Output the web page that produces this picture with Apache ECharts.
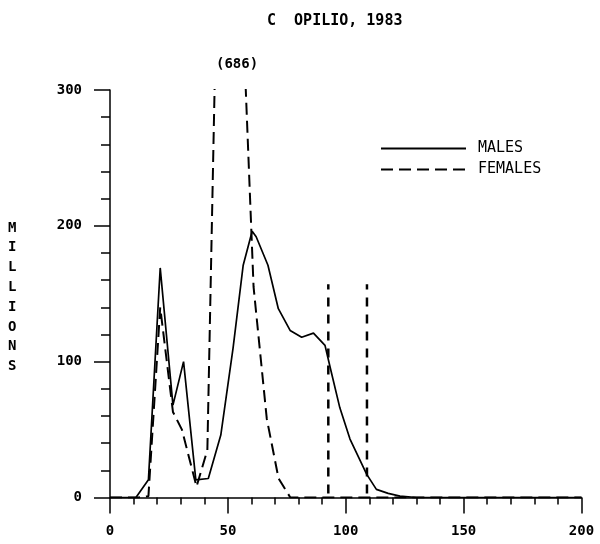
<!DOCTYPE html>
<html>
<head>
<meta charset="utf-8">
<script src="https://cdn.jsdelivr.net/npm/echarts@6/dist/echarts.min.js"></script>
<style>html,body{margin:0;padding:0;background:#fff}#c{width:600px;height:544px}</style>
</head>
<body>
<div id="c"></div>
<script>
const titleText = 'C  OPILIO, 1983';
const yAxisName = 'MILLIONS';
const peakNote = '(686)';
const seriesNames = ['MALES', 'FEMALES'];
const maleX = [0, 11, 16.3, 21.3, 26.7, 31.2, 36.4, 41.7, 47, 52.2, 56.5, 60.3, 62, 67, 71.4, 76.4, 81.3, 86.3, 91.2, 93.5, 97.5, 101.8, 108.9, 113, 118, 123, 130, 200];
const maleY = [0, 0, 13, 169, 68, 100, 13, 14, 46, 110, 171, 196, 192, 171, 139, 123, 118, 121, 112, 95, 66, 43, 17, 6, 3, 1, 0, 0];
const femaleX = [0, 12, 16.3, 21.3, 26.7, 30.5, 36.7, 41.3, 48.8, 60.9, 66.5, 71.5, 76.5, 200];
const femaleY = [0, 0, 1, 140, 63, 50, 8, 35, 686, 155, 58, 14, 0, 0];
const markerX = [92.6, 109];
const markerRange = [3, 157];

const FONT = '"DejaVu Sans Mono", "Liberation Mono", monospace';
const pairs = (xs, ys) => xs.map((x, i) => [x, ys[i]]);

const markerSeries = markerX.map((x, i) => ({
  name: 'marker' + i,
  type: 'line',
  symbol: 'none',
  silent: true,
  data: markerRange.map(v => [x, v]),
  lineStyle: { color: '#000', width: 2.5, type: [9, 8] }
}));

const chart = echarts.init(document.getElementById('c'));
chart.setOption({
  animation: false,
  backgroundColor: '#fff',
  grid: { left: 110, right: 18.5, top: 90, bottom: 46.5 },
  title: {
    text: titleText, left: 262, top: 9,
    textStyle: { fontFamily: FONT, fontSize: 15, fontWeight: 'bold', color: '#000' }
  },
  legend: {
    data: seriesNames,
    orient: 'vertical', left: 375, top: 136,
    itemWidth: 85, itemHeight: 14, itemGap: 6,
    itemStyle: { color: 'transparent', borderColor: 'transparent', borderWidth: 0, opacity: 0 },
    textStyle: { fontFamily: FONT, fontSize: 15, color: '#000', padding: [0, 0, 0, 7] }
  },
  graphic: [
    { type: 'text', left: 8, top: 218,
      style: { text: yAxisName.split('').join('\n'), font: 'bold 14px ' + FONT, lineHeight: 19.8, fill: '#000', align: 'center' } },
    { type: 'text', left: 216, top: 57,
      style: { text: peakNote, font: 'bold 14px ' + FONT, fill: '#000' } }
  ],
  xAxis: {
    type: 'value', min: 0, max: 200, interval: 50,
    axisLine: { lineStyle: { color: '#000', width: 1.5 } },
    axisTick: { show: true, length: 16, lineStyle: { color: '#000', width: 1.5 } },
    minorTick: { show: true, splitNumber: 5, length: 7, lineStyle: { color: '#000', width: 1.5 } },
    splitLine: { show: false },
    axisLabel: { margin: 27, fontFamily: FONT, fontSize: 14, fontWeight: 'bold', color: '#000' }
  },
  yAxis: {
    type: 'value', min: 0, max: 300, interval: 100,
    axisLine: { show: true, lineStyle: { color: '#000', width: 1.5 } },
    axisTick: { show: true, length: 16, lineStyle: { color: '#000', width: 1.5 } },
    minorTick: { show: true, splitNumber: 5, length: 9, lineStyle: { color: '#000', width: 1.5 } },
    splitLine: { show: false },
    axisLabel: { margin: 28, fontFamily: FONT, fontSize: 14, fontWeight: 'bold', color: '#000' }
  },
  series: [
    { name: seriesNames[0], type: 'line', symbol: 'none', clip: true,
      data: pairs(maleX, maleY),
      itemStyle: { color: '#000' },
      lineStyle: { color: '#000', width: 1.7, type: 'solid' } },
    { name: seriesNames[1], type: 'line', symbol: 'none', clip: true,
      data: pairs(femaleX, femaleY),
      itemStyle: { color: '#000' },
      lineStyle: { color: '#000', width: 2, type: [12, 6] } },
    ...markerSeries
  ]
});
</script>
</body>
</html>
